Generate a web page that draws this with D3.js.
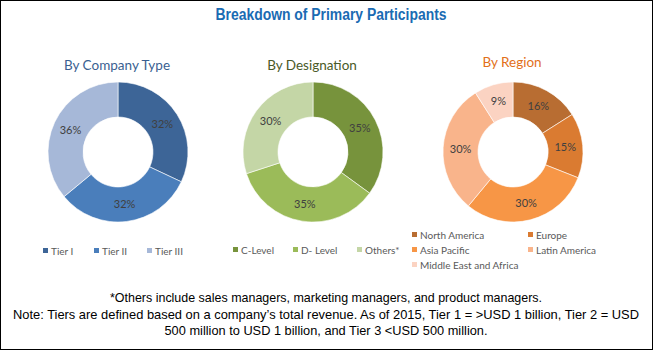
<!DOCTYPE html>
<html>
<head>
<meta charset="utf-8">
<script src="https://cdn.jsdelivr.net/npm/d3@7"></script>
<style>
  body { margin: 0; background: #fff; }
  svg { display: block; }
</style>
</head>
<body>
<div id="chart"></div>
<script>
// datos de los tres anillos
const tiposEmpresa = ["Tier I", "Tier II", "Tier III"];
const valoresEmpresa = [32, 32, 36];

const designaciones = ["C-Level", "D- Level", "Others*"];
const valoresDesignacion = [35, 35, 30];

const regiones = ["North America", "Europe", "Asia Pacific", "Latin America", "Middle East and Africa"];
const valoresRegion = [16, 15, 30, 30, 9];

const titulo = "Breakdown of Primary Participants";
const notas = [
  "*Others include sales managers, marketing managers, and product managers.",
  "Note: Tiers are defined based on a company\u2019s total revenue. As of 2015, Tier 1 = >USD 1 billion, Tier 2 = USD",
  "500 million to USD 1 billion, and Tier 3 <USD 500 million."
];

const ancho = 653, alto = 350;
const svg = d3.select("#chart").append("svg")
  .attr("width", ancho).attr("height", alto);

// marco negro
svg.append("rect")
  .attr("x", 0.5).attr("y", 0.5)
  .attr("width", ancho - 1).attr("height", alto - 1)
  .attr("fill", "#fff").attr("stroke", "#000");

const fuenteNarrow = "'Liberation Sans Narrow', 'Arial Narrow', 'Liberation Sans', sans-serif";
const fuenteCal = "Lato, 'Open Sans', sans-serif";

// título (fuente estrecha simulada con textLength)
svg.append("text")
  .attr("x", 331).attr("y", 20)
  .attr("text-anchor", "middle")
  .attr("textLength", 231)
  .attr("lengthAdjust", "spacingAndGlyphs")
  .style("font-family", fuenteNarrow)
  .style("font-weight", "bold")
  .style("font-size", "16px")
  .style("fill", "#1a6bb3")
  .text(titulo);

const rExt = 70, rInt = 35;
const pie = d3.pie().sort(null).value(d => d.valor);
const arc = d3.arc().innerRadius(rInt).outerRadius(rExt);

const paneles = [
  { sub: "By Company Type", subColor: "#3a5f91", cx: 118, subY: 70,
    nombres: tiposEmpresa, valores: valoresEmpresa,
    colores: ["#3d6597", "#4a7ebb", "#a6b8d8"] },
  { sub: "By Designation", subColor: "#4a5a28", cx: 313, subY: 70,
    nombres: designaciones, valores: valoresDesignacion,
    colores: ["#77933c", "#9bbb59", "#c4d6a6"] },
  { sub: "By Region", subColor: "#e2701a", cx: 513, subY: 67,
    nombres: regiones, valores: valoresRegion,
    colores: ["#b86d32", "#da7b31", "#f79646", "#f9b48b", "#fbd3c2"] }
];

const cy = 152;

paneles.forEach(p => {
  const datos = p.nombres.map((n, i) => ({ nombre: n, valor: p.valores[i] }));
  const color = d3.scaleOrdinal().domain(p.nombres).range(p.colores);

  svg.append("text")
    .attr("x", p.cx - 1).attr("y", p.subY)
    .attr("text-anchor", "middle")
    .style("font-family", fuenteCal)
    .style("font-size", "13.5px")
    .style("fill", p.subColor)
    .text(p.sub);

  const g = svg.append("g").attr("transform", `translate(${p.cx},${cy})`);

  g.selectAll("path")
    .data(pie(datos))
    .join("path")
    .attr("d", arc)
    .attr("fill", d => color(d.data.nombre))
    .attr("stroke", "#fff")
    .attr("stroke-width", 0.6);

  g.selectAll("text")
    .data(pie(datos))
    .join("text")
    .attr("transform", d => `translate(${arc.centroid(d)})`)
    .attr("dy", "0.35em")
    .attr("text-anchor", "middle")
    .style("font-family", fuenteCal)
    .style("font-size", "11px")
    .style("fill", "#404040")
    .text(d => d.data.valor + "%");
});

// leyendas
function leyenda(items, colores, posiciones) {
  const g = svg.append("g");
  items.forEach((n, i) => {
    const [x, y] = posiciones[i];
    g.append("rect")
      .attr("x", x).attr("y", y - 3)
      .attr("width", 5).attr("height", 5)
      .attr("fill", colores[i]);
    g.append("text")
      .attr("x", x + 8).attr("y", y)
      .attr("dy", "0.35em")
      .style("font-family", fuenteCal)
      .style("font-size", "10px")
      .style("fill", "#595959")
      .text(n);
  });
}

leyenda(tiposEmpresa, paneles[0].colores, [[43, 251], [94, 251], [147, 251]]);
leyenda(designaciones, paneles[1].colores, [[233, 250], [293, 250], [357, 250]]);
leyenda(regiones, paneles[2].colores, [[412, 235], [528, 235], [412, 250], [528, 250], [412, 265]]);

// notas al pie
const anchosNotas = [432, 626, 323];
svg.append("g").selectAll("text")
  .data(notas)
  .join("text")
  .attr("x", 326)
  .attr("y", (d, i) => 302 + i * 16.5)
  .attr("text-anchor", "middle")
  .attr("textLength", (d, i) => anchosNotas[i])
  .attr("lengthAdjust", "spacingAndGlyphs")
  .style("font-family", fuenteNarrow)
  .style("font-size", "12.8px")
  .style("fill", "#000")
  .text(d => d);
</script>
</body>
</html>
